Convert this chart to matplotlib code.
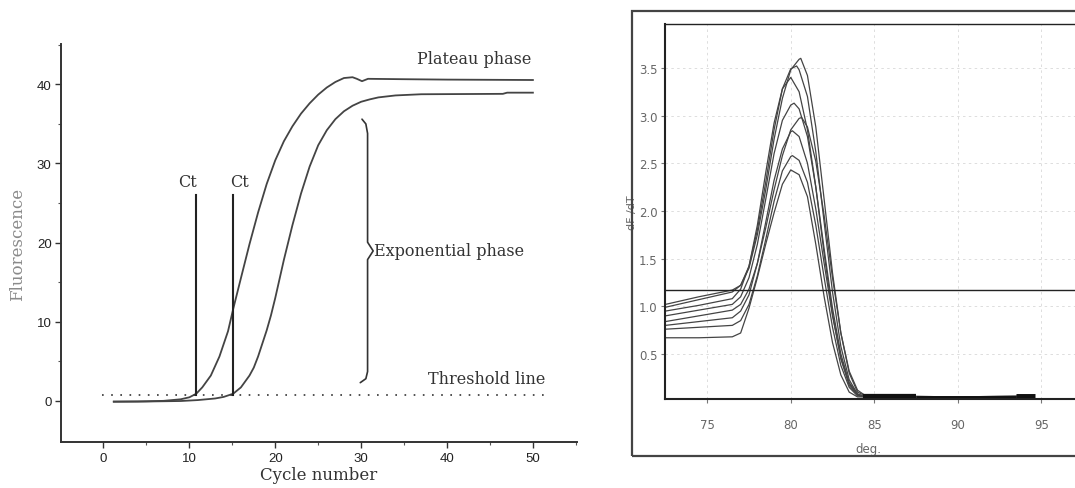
import matplotlib
matplotlib.use("Agg")
import matplotlib.pyplot as plt
from matplotlib.patches import Rectangle

# ---------------- data: amplification curves (left panel) ----------------
cycles_a = [1.2, 4, 7, 9, 10, 10.8, 11.5, 12.5, 13.5, 14.5, 15.1, 16, 17, 18, 19, 20,
            21, 22, 23, 24, 25, 26, 27, 28, 29, 29.5, 30.1, 30.8, 35, 40, 50]
fluor_a = [-0.1, -0.08, 0.0, 0.2, 0.45, 0.9, 1.7, 3.2, 5.6, 8.8, 11.6, 15.5, 19.8, 23.8,
           27.4, 30.4, 32.8, 34.7, 36.3, 37.6, 38.7, 39.6, 40.3, 40.8, 40.9, 40.7, 40.4,
           40.7, 40.65, 40.6, 40.55]
cycles_b = [1.2, 5, 9, 11, 13, 14, 15.1, 16, 17, 17.5, 18, 19, 19.5, 20, 21, 22, 23, 24,
            25, 26, 27, 28, 29, 30, 31, 32, 34, 37, 46.5, 47, 50]
fluor_b = [-0.1, -0.08, -0.02, 0.1, 0.3, 0.5, 0.9, 1.7, 3.2, 4.2, 5.6, 8.9, 10.8, 13.0,
           17.8, 22.2, 26.2, 29.6, 32.3, 34.2, 35.6, 36.6, 37.3, 37.8, 38.1, 38.35, 38.6,
           38.75, 38.8, 38.95, 38.95]
threshold = 0.7
threshold_span = [-0.2, 51.4]
ct_values = [10.76, 15.07]
ct_top = 26.0
ct_label_x = [9.84, 15.89]
amp_xticks = [0, 10, 20, 30, 40, 50]
amp_yticks = [0, 10, 20, 30, 40]

# ---------------- data: melt curves (right panel) ----------------
melt_temp = [72.5, 74.5, 76.5, 77.0, 77.5, 78.0, 78.5, 79.0, 79.5, 80.0, 80.5, 81.0,
             81.5, 82.0, 82.5, 83.0, 83.5, 84.0, 84.5, 85.0, 90.0, 94.5]
melt_c1 = [1.02, 1.10, 1.17, 1.22, 1.40, 1.75, 2.22, 2.75, 3.18, 3.48, 3.59, 3.42, 2.88,
           2.12, 1.35, 0.72, 0.30, 0.10, 0.06, 0.06, 0.05, 0.06]
melt_c2 = [0.99, 1.07, 1.15, 1.22, 1.42, 1.80, 2.30, 2.85, 3.28, 3.49, 3.48, 3.20, 2.62,
           1.88, 1.15, 0.58, 0.23, 0.08, 0.05, 0.05, 0.04, 0.05]
melt_c3 = [0.95, 1.01, 1.08, 1.18, 1.42, 1.85, 2.40, 2.92, 3.28, 3.40, 3.25, 2.85, 2.25,
           1.55, 0.92, 0.45, 0.17, 0.07, 0.05, 0.04, 0.04, 0.05]
melt_c4 = [0.90, 0.96, 1.02, 1.10, 1.30, 1.65, 2.12, 2.60, 2.95, 3.11, 3.07, 2.78, 2.25,
           1.60, 0.98, 0.50, 0.20, 0.08, 0.05, 0.05, 0.04, 0.05]
melt_c5 = [0.84, 0.90, 0.96, 1.02, 1.18, 1.45, 1.82, 2.22, 2.58, 2.85, 2.97, 2.88, 2.52,
           1.95, 1.30, 0.72, 0.32, 0.12, 0.06, 0.06, 0.05, 0.06]
melt_c6 = [0.80, 0.84, 0.88, 0.95, 1.12, 1.45, 1.88, 2.32, 2.65, 2.83, 2.78, 2.50, 2.02,
           1.45, 0.90, 0.46, 0.19, 0.07, 0.05, 0.04, 0.04, 0.05]
melt_c7 = [0.76, 0.78, 0.80, 0.85, 1.02, 1.32, 1.70, 2.10, 2.42, 2.57, 2.53, 2.30, 1.85,
           1.30, 0.78, 0.38, 0.15, 0.06, 0.05, 0.04, 0.04, 0.05]
melt_c8 = [0.67, 0.67, 0.68, 0.72, 0.98, 1.30, 1.65, 1.98, 2.28, 2.43, 2.38, 2.15, 1.65,
           1.10, 0.62, 0.28, 0.10, 0.05, 0.05, 0.04, 0.04, 0.05]
melt_peak_x = [80.6, 80.35, 80.0, 80.2, 80.65, 80.1, 80.1, 80.0]
melt_peak_y = [3.60, 3.52, 3.40, 3.13, 2.98, 2.84, 2.58, 2.43]
melt_threshold = 1.175
tail_band_start = [84.3, 87.5, 93.5]
tail_band_end = [87.5, 93.5, 94.6]
tail_band_level = [0.045, 0.04, 0.045]
melt_xticks = [75, 80, 85, 90, 95]
melt_yticks = [0.5, 1.0, 1.5, 2.0, 2.5, 3.0, 3.5]

W, H = 1075, 489
fig = plt.figure(figsize=(W / 100, H / 100), dpi=100)
fig.patch.set_facecolor("white")

SERIF = ["DejaVu Serif"]
SANS = ["Liberation Sans", "DejaVu Sans"]
NARROW = ["Liberation Sans Narrow", "DejaVu Sans"]

# ================= left panel =================
ax1 = fig.add_axes([61.4 / W, (H - 443) / H, (576.7 - 61.4) / W, (443 - 45) / H])
ax1.set_xlim(-4.9, 55.1)
ax1.set_ylim(-5.2, 45.1)
for s in ["top", "right"]:
    ax1.spines[s].set_visible(False)
for s in ["left", "bottom"]:
    ax1.spines[s].set_linewidth(1.4)
    ax1.spines[s].set_color("#333333")
ax1.set_xticks(amp_xticks)
ax1.set_yticks(amp_yticks)
ax1.set_xticks([5, 15, 25, 35, 45, 55], minor=True)
ax1.set_yticks([5, 15, 25, 35, 45], minor=True)
ax1.tick_params(which="major", direction="out", length=4, width=1, colors="#333333",
                labelsize=9.5, pad=3)
ax1.tick_params(which="minor", direction="out", length=2.5, width=0.8, colors="#555555")
for lab in ax1.get_xticklabels() + ax1.get_yticklabels():
    lab.set_family(SANS)
    lab.set_color("#222222")

line_col = "#444444"
ax1.plot(cycles_a, fluor_a, color=line_col, lw=1.3)
ax1.plot(cycles_b, fluor_b, color=line_col, lw=1.3)
ax1.plot(threshold_span, [threshold, threshold], color="#333333", lw=1.2,
         linestyle=(0, (1, 4.5)))
for cx, lx in zip(ct_values, ct_label_x):
    ax1.plot([cx, cx], [threshold, ct_top], color="#222222", lw=1.5)
    ax1.text(lx, ct_top + 0.6, "Ct", family=SERIF, fontsize=11.5, color="#333333",
             ha="center", va="bottom")

# brace for exponential phase
bx, btop, bbot, bmid = 30.75, 35.6, 2.3, 18.95
ax1.plot([bx - 0.65, bx - 0.2, bx, bx, bx + 0.65, bx, bx, bx - 0.2, bx - 0.85],
         [btop, btop - 0.6, btop - 1.8, bmid + 1.1, bmid, bmid - 1.1, bbot + 1.4,
          bbot + 0.5, bbot],
         color="#333333", lw=1.2, solid_capstyle="round", solid_joinstyle="round")
ax1.text(bx + 0.75, bmid, "Exponential phase", family=SERIF, fontsize=11.5,
         color="#333333", ha="left", va="center")
ax1.text(49.8, 42.2, "Plateau phase", family=SERIF, fontsize=11.5, color="#333333",
         ha="right", va="bottom")
ax1.text(51.5, 1.7, "Threshold line", family=SERIF, fontsize=11.5, color="#333333",
         ha="right", va="bottom")
ax1.set_xlabel("Cycle number", family=SERIF, fontsize=12, color="#333333", labelpad=1.5)
ax1.set_ylabel("Fluorescence", family=SERIF, fontsize=12, color="#8a8a8a", labelpad=8)

# ================= right panel =================
# outer frame
fig.add_artist(Rectangle((632 / W, (H - 457) / H), 1.2, (457 - 12) / H,
                         transform=fig.transFigure, fill=False, ec="#444444", lw=1.6))

ax2 = fig.add_axes([665 / W, (H - 400) / H, (1100 - 665) / W, (400 - 25) / H])
ax2.set_xlim(72.47, 72.47 + 435 / 16.7)
ax2.set_ylim(0.028, 3.96)
ax2.spines["right"].set_visible(False)
ax2.spines["left"].set_linewidth(1.5)
ax2.spines["bottom"].set_linewidth(1.5)
ax2.spines["top"].set_linewidth(1.0)
for s in ax2.spines.values():
    s.set_color("#222222")
ax2.set_xticks(melt_xticks)
ax2.set_yticks(melt_yticks)
ax2.set_yticklabels(["%.1f" % v for v in melt_yticks])
ax2.tick_params(direction="out", length=3, width=0.8, colors="#777777",
                labelsize=8.5, pad=2.5)
ax2.tick_params(axis="x", pad=11)
for lab in ax2.get_xticklabels() + ax2.get_yticklabels():
    lab.set_family(NARROW)
    lab.set_color("#666666")
ax2.grid(True, color="#d8d8d8", lw=0.6, linestyle=(0, (3, 4)))
ax2.set_axisbelow(True)

melt_curves = [melt_c1, melt_c2, melt_c3, melt_c4, melt_c5, melt_c6, melt_c7, melt_c8]
for ys, px, py in zip(melt_curves, melt_peak_x, melt_peak_y):
    pts = sorted(zip(melt_temp + [px], ys + [py]))
    ax2.plot([p[0] for p in pts], [p[1] for p in pts], color="#444444", lw=0.9)

ax2.axhline(melt_threshold, color="#222222", lw=1.0)
for x0, x1, lv, lw in zip(tail_band_start, tail_band_end, tail_band_level, [4.5, 3.5, 5]):
    ax2.plot([x0, x1], [lv, lv], color="#111111", lw=lw, solid_capstyle="butt")

ax2.set_xlabel("deg.", fontsize=8.5, color="#666666", family=NARROW)
ax2.xaxis.set_label_coords((868 - 665) / 435, -(443 - 400) / 375)
ax2.set_ylabel("dF /dT", fontsize=8, color="#666666", family=NARROW)
ax2.yaxis.set_label_coords(-(665 - 637) / 435, 0.5)

fig.savefig("out.png", dpi=100, facecolor="white")
